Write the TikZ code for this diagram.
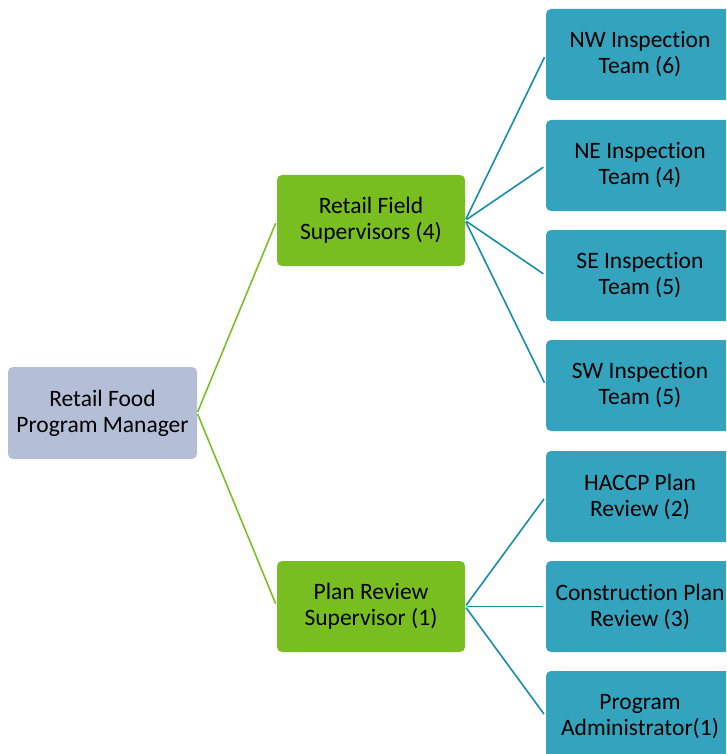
\documentclass[tikz,border=0pt]{standalone}
\usepackage{fontspec}
\setmainfont{Carlito}[Ligatures=NoCommon]
\definecolor{mgrc}{RGB}{180,190,214}
\definecolor{grnc}{RGB}{120,190,32}
\definecolor{tealc}{RGB}{52,164,190}
\definecolor{tline}{RGB}{22,142,170}
\definecolor{gline}{RGB}{122,192,40}
\begin{document}
\begin{tikzpicture}[x=1pt,y=1pt,
  box/.style={rounded corners=5pt,minimum width=188pt,minimum height=91pt,align=center,inner sep=0pt,font=\fontsize{23.5}{26}\selectfont,text=black},
  mgrbox/.style={box,fill=mgrc,minimum width=189pt,minimum height=92pt},
  supbox/.style={box,fill=grnc},
  teambox/.style={box,fill=tealc},
  gconn/.style={draw=gline,line width=1.6pt,shorten >=3pt,shorten <=1pt},
  tconn/.style={draw=tline,line width=1.6pt,shorten >=3pt,shorten <=1.5pt}]
\useasboundingbox (0,0) rectangle (726,-754);
\clip (0,0) rectangle (726,-754);
\node[mgrbox] (mgr) at (102.5,-413) {Retail Food\\Program Manager};
\node[supbox] (rfs) at (371,-220.5) {Retail Field\\Supervisors (4)};
\node[supbox] (prs) at (371,-606.5) {Plan Review\\Supervisor (1)};
\node[teambox] (nw) at (640,-54.5) {NW Inspection\\Team (6)};
\node[teambox] (ne) at (640,-165.5) {NE Inspection\\Team (4)};
\node[teambox] (se) at (640,-275.5) {SE Inspection\\Team (5)};
\node[teambox] (sw) at (640,-385.5) {SW Inspection\\Team (5)};
\node[teambox] (hac) at (640,-496.5) {HACCP Plan\\Review (2)};
\node[teambox] (con) at (640,-606.5) {Construction Plan\\Review (3)};
\node[teambox] (adm) at (640,-716.5) {Program\\Administrator(1)};
\draw[gconn] (mgr.east) -- (rfs.west);
\draw[gconn] (mgr.east) -- (prs.west);
\foreach \t in {nw,ne,se,sw}{\draw[tconn] (rfs.east) -- (\t.west);}
\foreach \t in {hac,con,adm}{\draw[tconn] (prs.east) -- (\t.west);}
\end{tikzpicture}
\end{document}
